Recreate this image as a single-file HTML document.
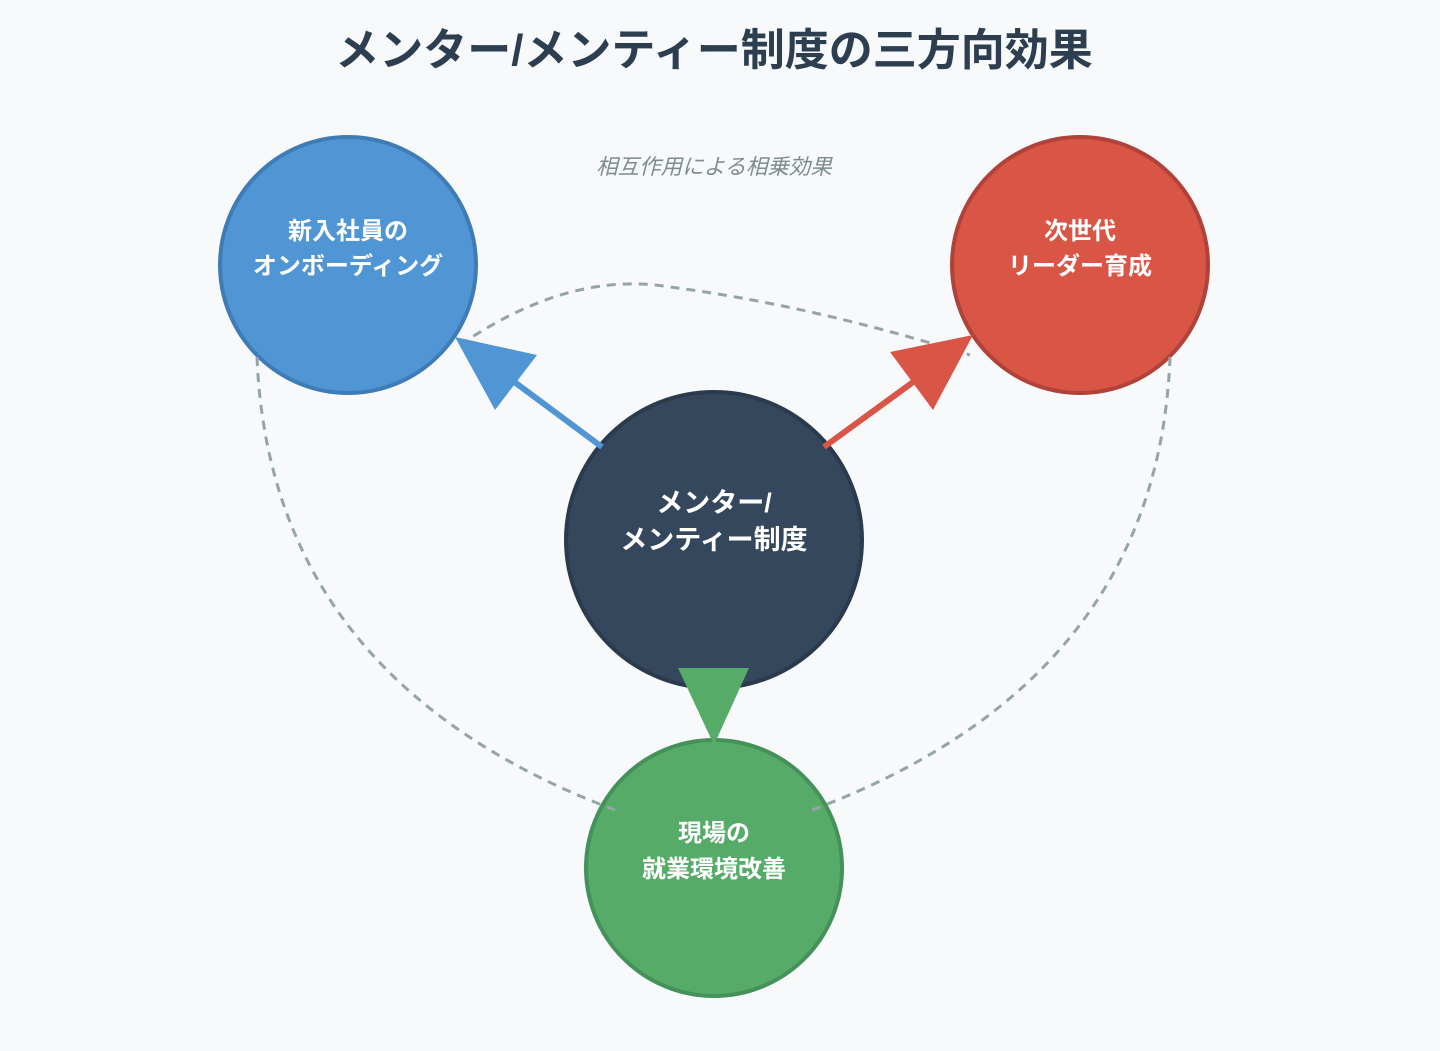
<!DOCTYPE html>
<html><head><meta charset="utf-8"><style>
html,body{margin:0;padding:0;background:#f7f9fb;}
svg text{font-family:"Liberation Sans","Noto Sans CJK JP",sans-serif;}
</style></head><body>
<svg width="1440" height="1046" viewBox="0 0 1440 1046" xmlns="http://www.w3.org/2000/svg">
<rect width="1440" height="1046" fill="#f7f9fb"/>
<text x="714" y="65" text-anchor="middle" font-size="44" font-weight="bold" fill="#2c3e50">メンター/メンティー制度の三方向効果</text>
<text x="714" y="174" text-anchor="middle" font-size="21.5" font-style="italic" fill="#7f8c8d">相互作用による相乗効果</text>
<circle cx="348" cy="265" r="128" fill="#5096d5" stroke="#3f7cb6" stroke-width="4"/>
<circle cx="1080" cy="265" r="128" fill="#d95646" stroke="#b0423a" stroke-width="4"/>
<circle cx="714" cy="868" r="128" fill="#55ab67" stroke="#45915a" stroke-width="4"/>
<circle cx="714" cy="540" r="148" fill="#34475d" stroke="#2b3a4c" stroke-width="4"/>
<g fill="none" stroke="#95a5a6" stroke-width="3" stroke-dasharray="9,7">
<path d="M460 345 Q 570 270 670 287 Q 810 305 970 355"/>
<path d="M257 357 Q 270 680 615 810"/>
<path d="M1170 357 Q 1158 680 812 810"/>
</g>
<line x1="602" y1="447" x2="505" y2="375" stroke="#5096d5" stroke-width="6"/>
<polygon points="455,337 537,355 495,410" fill="#5096d5"/>
<line x1="824" y1="447" x2="920" y2="377" stroke="#d95646" stroke-width="6"/>
<polygon points="973,335 890,352 933,410" fill="#d95646"/>
<polygon points="678,668 749,668 714,745" fill="#55ab67"/>
<g fill="#fff" font-weight="bold" text-anchor="middle">
<text x="348" y="239" font-size="24">新入社員の</text>
<text x="348" y="274" font-size="24">オンボーディング</text>
<text x="1080" y="239" font-size="24">次世代</text>
<text x="1080" y="274" font-size="24">リーダー育成</text>
<text x="714" y="512" font-size="27">メンター/</text>
<text x="714" y="549" font-size="27">メンティー制度</text>
<text x="714" y="841" font-size="24">現場の</text>
<text x="714" y="877" font-size="24">就業環境改善</text>
</g>
</svg>
</body></html>
